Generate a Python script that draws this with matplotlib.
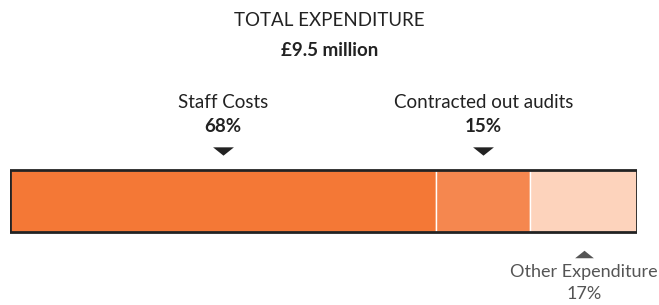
import matplotlib.pyplot as plt

# dati
categories = ["Staff Costs", "Contracted out audits", "Other Expenditure"]
shares = [68, 15, 17]
colors = ["#F47836", "#F5874F", "#FDD3BC"]
title_label = "TOTAL EXPENDITURE"
total_label = "£9.5 million"

plt.rcParams['font.family'] = ['Lato', 'DejaVu Sans']

fig = plt.figure(figsize=(6.59, 3.05), dpi=100)
ax = fig.add_axes([10 / 659, 0, 627 / 659, 1])
ax.set_xlim(0, sum(shares))
ax.set_ylim(305, 0)  # y in pixel dall'alto
ax.axis("off")

bar_y, bar_h = 201, 62
lefts = [sum(shares[:i]) for i in range(len(shares))]
ax.barh(bar_y, shares, left=lefts, height=bar_h, color=colors,
        edgecolor="white", linewidth=1, zorder=2)
# bordo esterno
ax.add_patch(plt.Rectangle((0, bar_y - bar_h / 2), sum(shares), bar_h,
                           fill=False, edgecolor="#222222", linewidth=2, zorder=3))

dark = "#222222"
grey = "#555555"
fs = 13.5

# triangoli piatti
tri_down = [(-1, 0.4), (1, 0.4), (0, -0.4)]
tri_up = [(-1, -0.4), (1, -0.4), (0, 0.4)]

fig.text(0.5, 1 - 21 / 305, title_label, ha="center", va="center",
         fontsize=fs, color=dark)
fig.text(0.5, 1 - 50 / 305, total_label, ha="center", va="center",
         fontsize=fs, fontweight="bold", color=dark)

for i, (cat, val) in enumerate(zip(categories, shares)):
    mid = lefts[i] + val / 2
    if i < 2:
        ax.text(mid, 102, cat, ha="center", va="center", fontsize=fs, color=dark)
        ax.text(mid, 127, f"{val}%", ha="center", va="center", fontsize=fs,
                fontweight="bold", color=dark)
        ax.plot(mid, 151, marker=tri_down, markersize=15, color=dark,
                markeredgewidth=0, clip_on=False)
    else:
        ax.plot(mid, 254, marker=tri_up, markersize=13.5, color=grey,
                markeredgewidth=0, clip_on=False)
        ax.text(mid, 272, cat, ha="center", va="center", fontsize=13, color=grey)
        ax.text(mid, 294, f"{val}%", ha="center", va="center", fontsize=13, color=grey)

fig.savefig("out.png", dpi=100)
